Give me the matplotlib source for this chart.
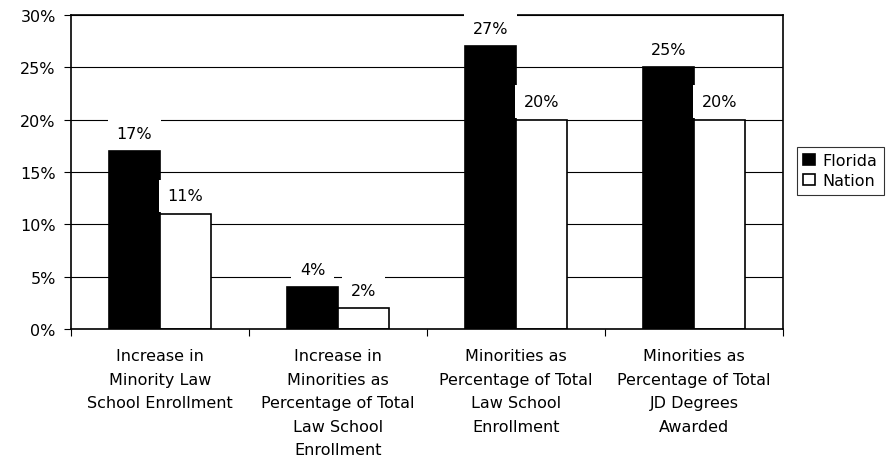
import matplotlib.pyplot as plt
import numpy as np

# Chart data
categories = [
    'Increase in\nMinority Law\nSchool Enrollment',
    'Increase in\nMinorities as\nPercentage of Total\nLaw School\nEnrollment',
    'Minorities as\nPercentage of Total\nLaw School\nEnrollment',
    'Minorities as\nPercentage of Total\nJD Degrees\nAwarded',
]
florida = [17, 4, 27, 25]
nation = [11, 2, 20, 20]
series_names = ['Florida', 'Nation']
yticks = [0, 5, 10, 15, 20, 25, 30]

fs = 11.5
plt.rcParams['font.family'] = 'DejaVu Sans'
plt.rcParams['font.size'] = fs

fig = plt.figure(figsize=(8.9, 4.64), dpi=100)
ax = fig.add_axes([0.0798, 0.2888, 0.80, 0.6767])

x = np.arange(len(categories))
w = 0.287
b1 = ax.bar(x - w / 2, florida, w, color='black', edgecolor='black', linewidth=1.2,
            label=series_names[0], zorder=2)
b2 = ax.bar(x + w / 2, nation, w, color='white', edgecolor='black', linewidth=1.2,
            label=series_names[1], zorder=2)

# value labels with white boxes
for bars, vals in [(b1, florida), (b2, nation)]:
    for bar, v in zip(bars, vals):
        ax.annotate(f'{v}%', (bar.get_x() + bar.get_width() / 2, v),
                    xytext=(0, 13), textcoords='offset points', ha='center', va='center',
                    fontsize=fs, zorder=5,
                    bbox=dict(boxstyle='square,pad=0.55', fc='white', ec='none'))

ax.set_ylim(0, 30)
ax.set_xlim(-0.5, len(categories) - 0.5)
ax.set_yticks(yticks)
ax.set_yticklabels([f'{t}%' for t in yticks])
ax.yaxis.grid(True, color='black', linewidth=0.8, zorder=0)
ax.set_axisbelow(True)

ax.set_xticks(np.arange(len(categories) + 1) - 0.5)
ax.set_xticklabels([])
ax.set_xticks(x, minor=True)
ax.set_xticklabels(categories, minor=True, linespacing=1.7)
ax.tick_params(axis='x', which='minor', length=0, pad=14)
ax.tick_params(axis='x', which='major', length=5, width=0.8, direction='out')
ax.tick_params(axis='y', length=5, width=0.8, direction='out', pad=6)

for s in ax.spines.values():
    s.set_linewidth(1.2)
    s.set_color('black')

leg = fig.legend(handles=[b1, b2], labels=series_names, loc='upper left',
                 bbox_to_anchor=(797 / 890, 1 - 148 / 464), frameon=True, fancybox=False,
                 edgecolor='black', handlelength=0.7, handleheight=0.7, handletextpad=0.5,
                 borderpad=0.4, labelspacing=0.3, fontsize=fs, borderaxespad=0)
leg.get_frame().set_linewidth(0.8)

fig.savefig('out.png', dpi=100)
